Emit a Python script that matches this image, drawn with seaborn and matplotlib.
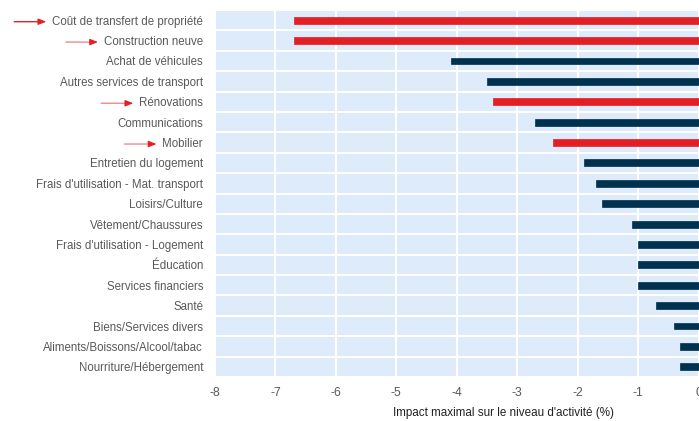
import matplotlib
matplotlib.use("Agg")
import matplotlib.pyplot as plt
import seaborn as sns
import pandas as pd
import numpy as np

categories = [
    "Coût de transfert de propriété",
    "Construction neuve",
    "Achat de véhicules",
    "Autres services de transport",
    "Rénovations",
    "Communications",
    "Mobilier",
    "Entretien du logement",
    "Frais d'utilisation - Mat. transport",
    "Loisirs/Culture",
    "Vêtement/Chaussures",
    "Frais d'utilisation - Logement",
    "Éducation",
    "Services financiers",
    "Santé",
    "Biens/Services divers",
    "Aliments/Boissons/Alcool/tabac",
    "Nourriture/Hébergement",
]
values = [-6.7, -6.7, -4.1, -3.5, -3.4, -2.7, -2.4, -1.9, -1.7, -1.6,
          -1.1, -1.0, -1.0, -1.0, -0.7, -0.4, -0.3, -0.3]
highlighted = ["Coût de transfert de propriété", "Construction neuve",
               "Rénovations", "Mobilier"]
x_ticks = [-8, -7, -6, -5, -4, -3, -2, -1, 0]
x_label = "Impact maximal sur le niveau d'activité (%)"

RED = "#e31e24"
NAVY = "#003250"
BG = "#deebfb"
TXT = "#595959"

sns.set_theme(style="white")
plt.rcParams["font.family"] = ["Liberation Sans", "DejaVu Sans"]

df = pd.DataFrame({"cat": categories, "val": values})
df["grp"] = ["hl" if c in highlighted else "base" for c in categories]

fig = plt.figure(figsize=(6.99, 4.21), dpi=100)
ax = fig.add_axes([215 / 699, 1 - 377 / 421, 483.5 / 699, 367 / 421])
ax.set_facecolor(BG)

sns.barplot(data=df, x="val", y="cat", hue="grp", orient="h",
            palette={"hl": RED, "base": NAVY}, width=0.34, dodge=False,
            saturation=1, legend=False, ax=ax, order=categories)
for bar in ax.patches:
    fc = bar.get_facecolor()
    bar.set_edgecolor(fc)
    bar.set_linewidth(0.5)

ax.set_xlim(-8, 0)
ax.set_ylim(len(categories) - 0.5, -0.5)
ax.set_xticks(x_ticks)
ax.set_xticklabels([str(t) for t in x_ticks])
ax.set_yticks(range(len(categories)))
ax.set_yticks(np.arange(len(categories) + 1) - 0.5, minor=True)
ax.grid(False)
ax.grid(True, axis="x", which="major", color="white", linewidth=1.5)
ax.grid(True, axis="y", which="minor", color="white", linewidth=1.5)
ax.set_axisbelow(True)
for s in ax.spines.values():
    s.set_visible(False)
ax.tick_params(axis="both", which="both", length=0)
ax.tick_params(axis="y", pad=8.6, labelsize=8.3, labelcolor=TXT)
ax.tick_params(axis="x", pad=7.5, labelsize=8.8, labelcolor=TXT)
ax.set_ylabel("")
ax.set_xlabel(x_label, fontsize=8.4, color="#222222")
ax.xaxis.set_label_coords(0.596, -0.083)

fig.canvas.draw()
renderer = fig.canvas.get_renderer()
for lab in ax.get_yticklabels():
    if lab.get_text() in highlighted:
        bb = lab.get_window_extent(renderer)
        yc = (bb.y0 + bb.y1) / 2
        xe = bb.x0 - 6
        line_col = RED if lab.get_text() == highlighted[0] else "#f08a8d"
        ax.annotate("", xy=(xe - 5, yc), xytext=(xe - 32, yc),
                    xycoords="figure pixels", textcoords="figure pixels",
                    arrowprops=dict(arrowstyle="-", color=line_col, lw=1.0,
                                    shrinkA=0, shrinkB=0),
                    annotation_clip=False)
        ax.annotate("", xy=(xe, yc), xytext=(xe - 6, yc),
                    xycoords="figure pixels", textcoords="figure pixels",
                    arrowprops=dict(arrowstyle="-|>,head_length=0.4,head_width=0.16",
                                    color=RED, lw=0.8,
                                    shrinkA=0, shrinkB=0),
                    annotation_clip=False)

fig.savefig("out.png", dpi=100)
